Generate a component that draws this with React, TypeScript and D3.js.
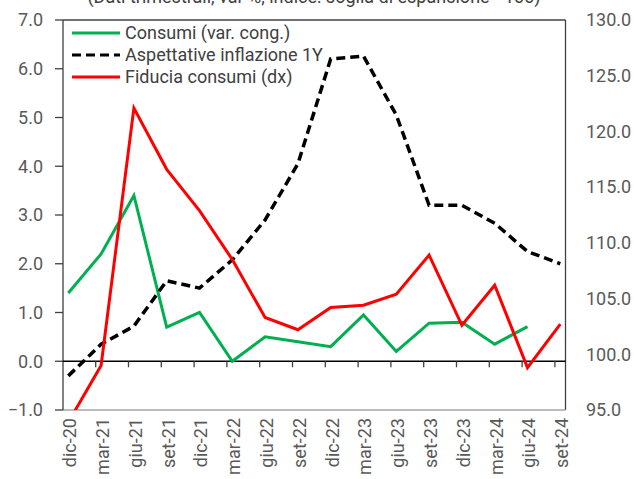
import * as d3 from 'd3'

const categories = ['dic-20', 'mar-21', 'giu-21', 'set-21', 'dic-21', 'mar-22', 'giu-22', 'set-22', 'dic-22', 'mar-23', 'giu-23', 'set-23', 'dic-23', 'mar-24', 'giu-24', 'set-24']

// consumi, var. congiunturale (sx)
const consumi = [1.4, 2.2, 3.4, 0.7, 1.0, 0.0, 0.5, 0.4, 0.3, 0.95, 0.2, 0.78, 0.8, 0.35, 0.71]
// aspettative di inflazione a 1 anno (sx)
const aspettative = [-0.3, 0.35, 0.72, 1.65, 1.5, 2.08, 2.9, 4.05, 6.2, 6.26, 5.05, 3.2, 3.2, 2.83, 2.25, 2.0]
// fiducia consumatori (dx)
const fiducia = [93.9, 99.0, 122.1, 116.6, 112.9, 108.5, 103.3, 102.2, 104.2, 104.4, 105.4, 108.9, 102.6, 106.2, 98.8, 102.7]

const leftTicks = [-1, 0, 1, 2, 3, 4, 5, 6, 7]
const rightTicks = [95, 100, 105, 110, 115, 120, 125, 130]

const legendItems = [
  { label: 'Consumi (var. cong.)', color: '#00B050', dash: '' },
  { label: 'Aspettative inflazione 1Y', color: '#000', dash: '9,5' },
  { label: 'Fiducia consumi (dx)', color: '#FF0000', dash: '' },
]

const W = 634
const H = 479
const plot = { left: 63, right: 565.5, top: 20, bottom: 410 }
const font = 'Roboto, sans-serif'

export default function App() {
  const x = d3.scaleLinear().domain([0, categories.length - 1]).range([68.3, 560.3])
  const yL = d3.scaleLinear().domain([-1, 7]).range([plot.bottom, plot.top])
  const yR = d3.scaleLinear().domain([95, 130]).range([plot.bottom, plot.top])

  const lineL = d3.line<number>().x((_, i) => x(i)).y((d) => yL(d))
  const lineR = d3.line<number>().x((_, i) => x(i)).y((d) => yR(d))

  const fmt = d3.format('.1f')
  const y0 = yL(0)

  return (
    <svg width={W} height={H} style={{ position: 'absolute', left: 0, top: 0 }} fontFamily={font}>
      <defs>
        <clipPath id="plotClip">
          <rect x={plot.left} y={plot.top} width={plot.right - plot.left} height={plot.bottom - plot.top} />
        </clipPath>
      </defs>

      <text x={314} y={3} textAnchor="middle" fontSize={18} fill="#404040">
        (Dati trimestrali, var %, indice: soglia di espansione =100)
      </text>

      {/* cornice area grafico */}
      <line x1={plot.left} x2={plot.right} y1={plot.top} y2={plot.top} stroke="#404040" strokeWidth={1.3} />
      <line x1={plot.right} x2={plot.right} y1={plot.top} y2={plot.bottom} stroke="#404040" strokeWidth={1.3} />
      <line x1={plot.left} x2={plot.right} y1={plot.bottom} y2={plot.bottom} stroke="#a6a6a6" strokeWidth={1.3} />

      {/* asse sinistro */}
      <line x1={plot.left} x2={plot.left} y1={plot.top} y2={plot.bottom} stroke="#404040" strokeWidth={1.3} />
      {leftTicks.map((t) => (
        <g key={t}>
          <line x1={plot.left - 8} x2={plot.left} y1={yL(t)} y2={yL(t)} stroke="#404040" strokeWidth={1.3} />
          <text x={43} y={yL(t)} dy="0.35em" textAnchor="end" fontSize={18} fill="#595959">
            {fmt(t)}
          </text>
        </g>
      ))}

      {/* asse destro */}
      {rightTicks.map((t) => (
        <text key={t} x={586} y={yR(t)} dy="0.35em" textAnchor="start" fontSize={18} fill="#595959">
          {fmt(t)}
        </text>
      ))}

      {/* asse x sullo zero */}
      <line x1={plot.left} x2={plot.right} y1={y0} y2={y0} stroke="#000" strokeWidth={1.3} />
      {categories.slice(1).map((c, i) => (
        <line key={c} x1={x(i + 1) - 5.4} x2={x(i + 1) - 5.4} y1={y0} y2={y0 + 6} stroke="#404040" strokeWidth={1.3} />
      ))}
      {categories.map((c, i) => (
        <text
          key={c}
          transform={`translate(${x(i) + 1.5},418) rotate(-90)`}
          dy="0.35em"
          textAnchor="end"
          fontSize={18}
          fill="#595959"
        >
          {c}
        </text>
      ))}

      <g clipPath="url(#plotClip)" fill="none" strokeLinejoin="miter">
        <path d={lineL(consumi) ?? ''} stroke="#00B050" strokeWidth={3} />
        <path d={lineL(aspettative) ?? ''} stroke="#000" strokeWidth={3.5} strokeDasharray="9,5" />
        <path d={lineR(fiducia) ?? ''} stroke="#FF0000" strokeWidth={3} />
      </g>

      {/* legenda */}
      {legendItems.map((l, i) => {
        const ly = 33 + i * 22
        return (
          <g key={l.label}>
            <line x1={72} x2={120} y1={ly} y2={ly} stroke={l.color} strokeWidth={3} strokeDasharray={l.dash || undefined} />
            <text x={125} y={ly} dy="0.35em" fontSize={18} fill="#404040">
              {l.label}
            </text>
          </g>
        )
      })}
    </svg>
  )
}
